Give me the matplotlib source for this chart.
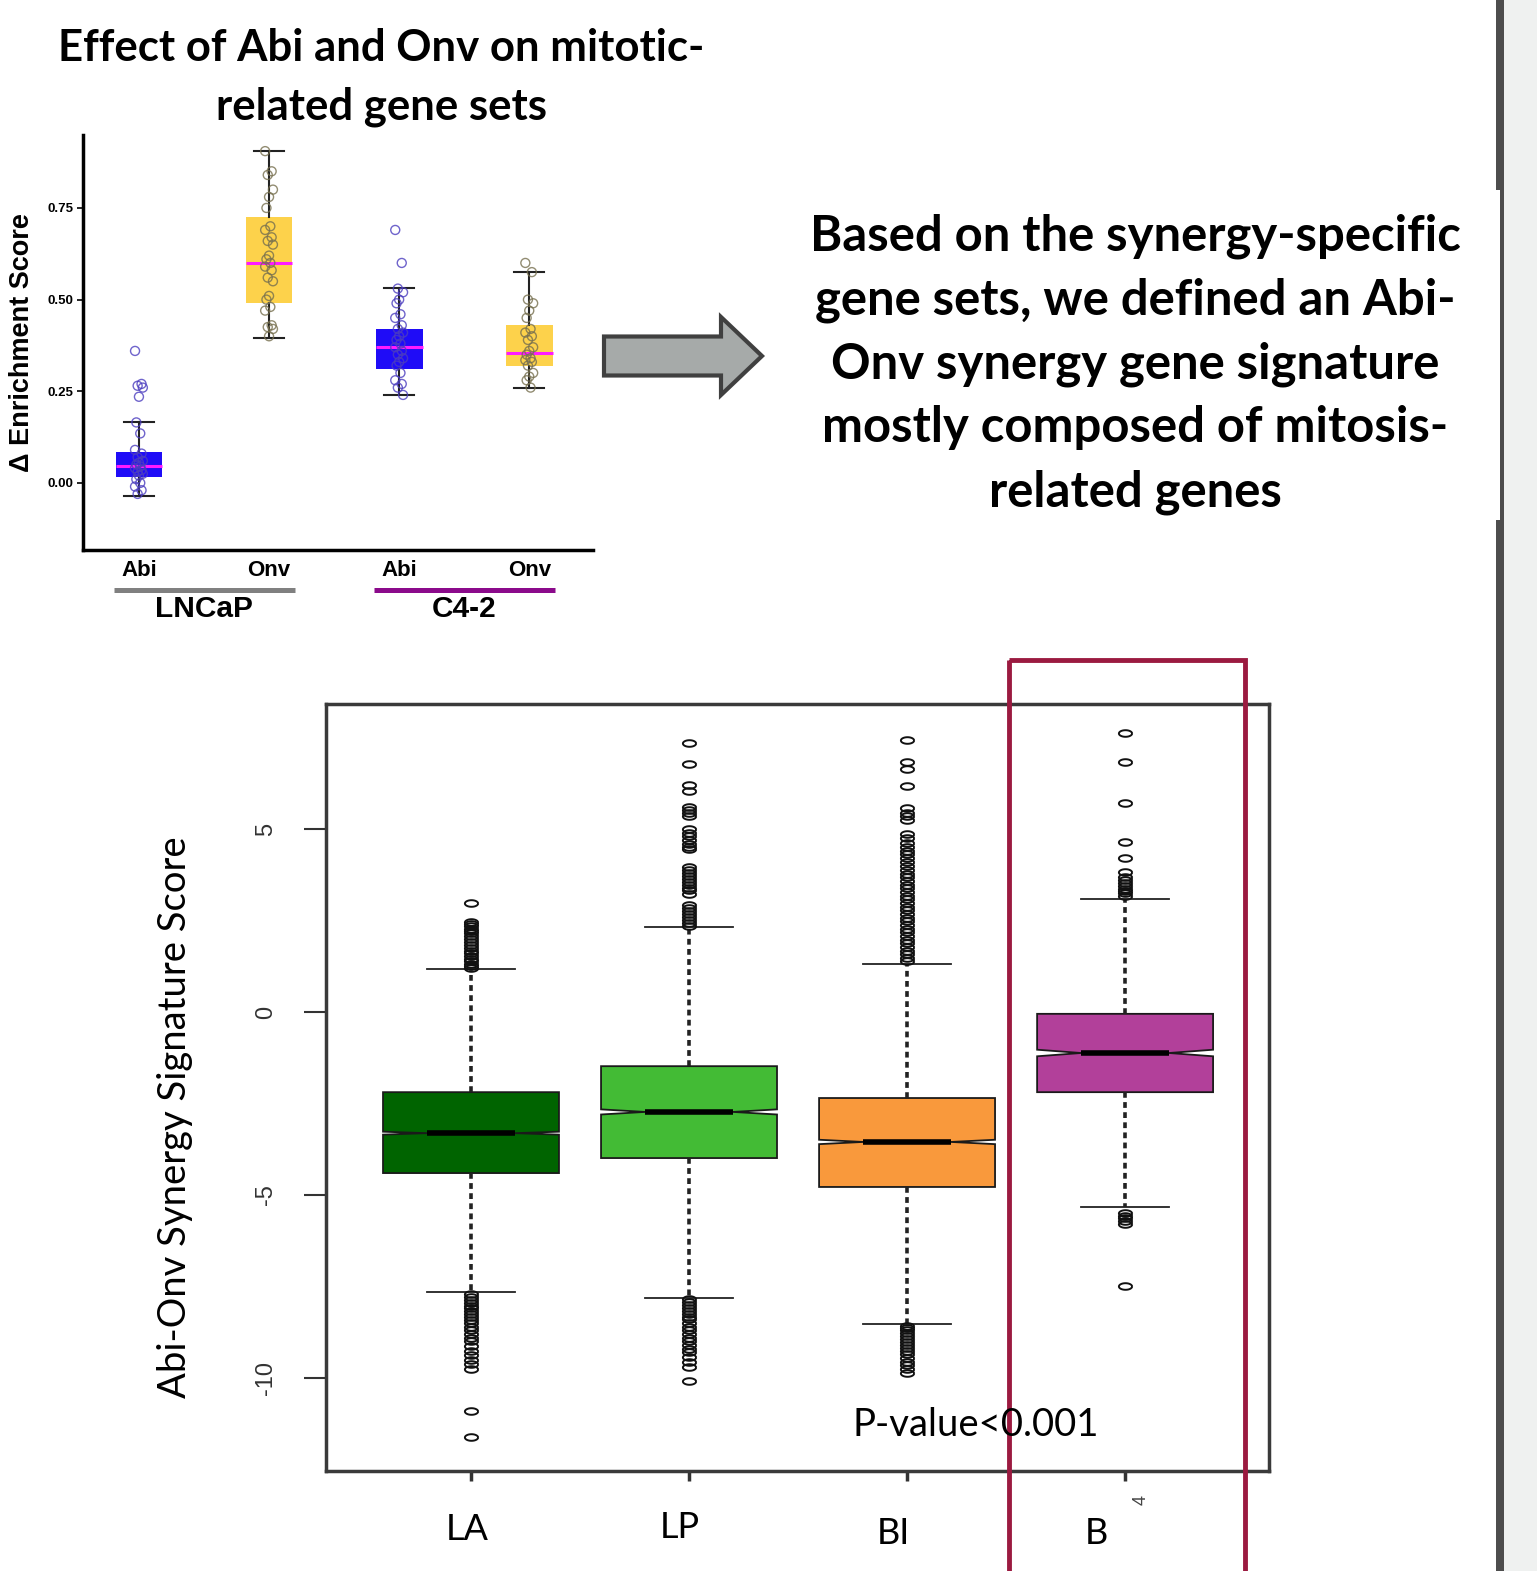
import numpy as np
import matplotlib
matplotlib.use("Agg")
import matplotlib.pyplot as plt
import matplotlib.transforms as mtransforms
from matplotlib.patches import Rectangle, FancyArrow

W, H = 1537, 1571

# ---------------- top panel : delta enrichment score ----------------
top_ticklabels = ["Abi", "Onv", "Abi", "Onv"]
top_cells = ["LNCaP", "C4-2"]
top_q1 = [0.015, 0.490, 0.310, 0.320]
top_med = [0.045, 0.600, 0.370, 0.355]
top_q3 = [0.083, 0.725, 0.420, 0.430]
top_whislo = [-0.035, 0.395, 0.240, 0.258]
top_whishi = [0.165, 0.905, 0.532, 0.575]
top_points = [
    [0.36, 0.27, 0.265, 0.26, 0.235, 0.165, 0.135, 0.09, 0.08, 0.07, 0.06, 0.055,
     0.05, 0.045, 0.04, 0.035, 0.03, 0.025, 0.02, 0.01, 0.0, -0.01, -0.02, -0.03],
    [0.905, 0.85, 0.84, 0.80, 0.78, 0.75, 0.70, 0.69, 0.67, 0.66, 0.65, 0.62, 0.61,
     0.60, 0.59, 0.58, 0.56, 0.55, 0.51, 0.50, 0.48, 0.47, 0.43, 0.425, 0.42, 0.40],
    [0.69, 0.60, 0.53, 0.52, 0.50, 0.49, 0.46, 0.45, 0.43, 0.42, 0.41, 0.40, 0.39,
     0.38, 0.37, 0.36, 0.35, 0.34, 0.33, 0.32, 0.30, 0.28, 0.27, 0.26, 0.24],
    [0.60, 0.575, 0.50, 0.49, 0.47, 0.45, 0.42, 0.41, 0.40, 0.39, 0.37, 0.36, 0.35,
     0.34, 0.335, 0.33, 0.32, 0.30, 0.29, 0.28, 0.26],
]
top_fill = ["#1f0cf7", "#fdd24b", "#1f0cf7", "#fdd24b"]
top_pt_color = ["#4b3dbf", "#77704f", "#4b3dbf", "#77704f"]

# ---------------- bottom panel : Abi-Onv synergy signature ----------------
sig_labels = ["LA", "LP", "BI", "B"]
sig_q1 = [-4.40, -3.99, -4.78, -2.19]
sig_med = [-3.31, -2.73, -3.55, -1.12]
sig_q3 = [-2.19, -1.48, -2.35, -0.05]
sig_whislo = [-7.65, -7.81, -8.52, -5.33]
sig_whishi = [1.17, 2.32, 1.30, 3.09]
sig_notch = [0.04, 0.07, 0.06, 0.09]
sig_out_hi = [
    [2.98, 2.46, 2.40, 2.34, 2.28, 2.22, 2.15, 2.08, 2.00, 1.92, 1.84, 1.76, 1.68,
     1.60, 1.52, 1.45, 1.38, 1.32, 1.26, 1.20],
    [7.35, 6.78, 6.20, 6.04, 5.60, 5.52, 5.44, 5.36, 5.00, 4.90, 4.80, 4.70, 4.60,
     4.52, 4.45, 3.96, 3.88, 3.80, 3.72, 3.64, 3.56, 3.48, 3.40, 3.32, 3.22, 2.92,
     2.84, 2.76, 2.68, 2.60, 2.52, 2.44, 2.36],
    [7.43, 6.83, 6.64, 6.17, 5.57, 5.45, 5.35, 5.25, 4.86, 4.75, 4.62, 4.50, 4.40,
     4.32, 4.20, 4.10, 3.98, 3.88, 3.77, 3.68, 3.58, 3.48, 3.38, 3.28, 3.18, 3.08,
     2.98, 2.88, 2.78, 2.68, 2.58, 2.48, 2.38, 2.28, 2.18, 2.08, 1.98, 1.88, 1.78,
     1.68, 1.58, 1.48, 1.38],
    [7.62, 6.83, 5.71, 4.64, 4.21, 3.83, 3.70, 3.61, 3.52, 3.44, 3.37, 3.30, 3.24, 3.18],
]
sig_out_lo = [
    [-7.70, -7.78, -7.86, -7.94, -8.02, -8.10, -8.18, -8.26, -8.34, -8.42, -8.50,
     -8.60, -8.70, -8.80, -8.90, -9.00, -9.12, -9.25, -9.38, -9.50, -9.62, -9.75,
     -10.90, -11.60],
    [-7.85, -7.92, -8.00, -8.08, -8.16, -8.24, -8.32, -8.40, -8.50, -8.60, -8.70,
     -8.80, -8.90, -9.00, -9.10, -9.20, -9.30, -9.42, -9.55, -9.70, -10.08],
    [-8.58, -8.64, -8.70, -8.78, -8.86, -8.94, -9.02, -9.10, -9.18, -9.26, -9.35,
     -9.45, -9.55, -9.65, -9.75, -9.85],
    [-5.49, -5.56, -5.63, -5.70, -5.79, -7.49],
]
sig_fill = ["#006400", "#43bb35", "#f9993c", "#b2409a"]

# text blocks
title_lines = ["Effect of Abi and Onv on mitotic-", "related gene sets"]
note_lines = ["Based on the synergy-specific", "gene sets, we defined an Abi-",
              "Onv synergy gene signature", "mostly composed of mitosis-",
              "related genes"]
pval_text = "P-value<0.001"

plt.rcParams['font.family'] = ['Liberation Sans', 'DejaVu Sans']

fig = plt.figure(figsize=(W / 100, H / 100), dpi=100)


def box_rect(l, t, r, b):
    return [l / W, 1 - b / H, (r - l) / W, (b - t) / H]


# ---------- top boxplot ----------
ax1 = fig.add_axes(box_rect(83, 135, 593, 550))
stats1 = [dict(med=top_med[i], q1=top_q1[i], q3=top_q3[i],
               whislo=top_whislo[i], whishi=top_whishi[i], fliers=[])
          for i in range(4)]
bp1 = ax1.bxp(stats1, positions=range(4), widths=0.36, capwidths=0.23,
              patch_artist=True, showfliers=False,
              boxprops=dict(linewidth=0),
              medianprops=dict(color="#ff1aff", linewidth=2.2),
              whiskerprops=dict(color="#222222", linewidth=1.5),
              capprops=dict(color="#222222", linewidth=1.5))
for patch, c in zip(bp1['boxes'], top_fill):
    patch.set_facecolor(c)
    patch.set_edgecolor(c)

jit = [-0.03, 0.02, -0.01, 0.03, 0.0, -0.02, 0.01]
for i, pts in enumerate(top_points):
    xs = [i + jit[k % len(jit)] for k in range(len(pts))]
    ax1.scatter(xs, pts, s=42, facecolors="none", edgecolors=top_pt_color[i],
                linewidths=1.0, alpha=0.8, zorder=4)

ax1.set_xlim(-0.43, 3.49)
ax1.set_ylim(-0.183, 0.949)
ax1.set_yticks([0, 0.25, 0.5, 0.75])
ax1.set_yticklabels(["0.00", "0.25", "0.50", "0.75"], fontsize=9.5, fontweight="bold")
ax1.set_xticks(range(4))
ax1.set_xticklabels(top_ticklabels, fontsize=16, fontweight="bold")
ax1.tick_params(axis="x", length=0, pad=7)
ax1.tick_params(axis="y", length=4, width=1.2, pad=3)
for s in ["top", "right"]:
    ax1.spines[s].set_visible(False)
for s in ["left", "bottom"]:
    ax1.spines[s].set_linewidth(2.5)
ax1.set_ylabel("Δ Enrichment Score", fontsize=19.5, fontweight="bold", va="center")
ax1.yaxis.set_label_coords((22 - 83) / 510, 0.5)

trans = mtransforms.blended_transform_factory(ax1.transData, ax1.transAxes)
yb = (550 - 590) / 415
ax1.plot([-0.19, 1.20], [yb, yb], transform=trans, clip_on=False,
         color="#808080", lw=3.6, solid_capstyle="butt")
ax1.plot([1.81, 3.20], [yb, yb], transform=trans, clip_on=False,
         color="#8b0a8b", lw=3.6, solid_capstyle="butt")
yg = (550 - 609) / 415
ax1.text(0.5, yg, top_cells[0], transform=trans, ha="center", va="center",
         fontsize=21.5, fontweight="bold")
ax1.text(2.5, yg, top_cells[1], transform=trans, ha="center", va="center",
         fontsize=21.5, fontweight="bold")

# ---------- bottom notched boxplot ----------
ax2 = fig.add_axes(box_rect(326, 704, 1269, 1471))
t = np.linspace(0, 2 * np.pi, 40)
ellipse = np.column_stack([np.cos(t), 0.5 * np.sin(t)])
stats2 = [dict(med=sig_med[i], q1=sig_q1[i], q3=sig_q3[i],
               whislo=sig_whislo[i], whishi=sig_whishi[i],
               cilo=sig_med[i] - sig_notch[i], cihi=sig_med[i] + sig_notch[i],
               fliers=sig_out_hi[i] + sig_out_lo[i])
          for i in range(4)]
bp2 = ax2.bxp(stats2, positions=[1, 2, 3, 4], widths=0.807, patch_artist=True,
              shownotches=True, showfliers=True,
              boxprops=dict(edgecolor="#1a1a1a", linewidth=1.3),
              medianprops=dict(color="black", linewidth=4, solid_capstyle="butt"),
              whiskerprops=dict(color="#222222", linewidth=2.6, linestyle=(0, (1.6, 1.2))),
              capprops=dict(color="#222222", linewidth=1.3),
              flierprops=dict(marker=ellipse, markersize=9.5, markerfacecolor="none",
                              markeredgecolor="#111111", markeredgewidth=1.4,
                              linestyle="none"))
for patch, c in zip(bp2['boxes'], sig_fill):
    patch.set_facecolor(c)

ax2.set_xlim(0.335, 4.66)
ax2.set_ylim(-12.54, 8.415)
ax2.set_yticks([-10, -5, 0, 5])
ax2.set_yticklabels(["-10", "-5", "0", "5"], rotation=90, fontsize=17,
                    color="#333333", va="center")
ax2.tick_params(axis="y", length=16, width=1.5, pad=19, color="#333333")
ax2.set_xticks([1, 2, 3, 4])
ax2.set_xticklabels([])
ax2.tick_params(axis="x", length=7, width=2.5, color="#333333")
for s in ax2.spines.values():
    s.set_linewidth(2.5)
    s.set_color("#3a3a3a")

# ---------- overlay: text, arrow, frame ----------
ov = fig.add_axes([0, 0, 1, 1], zorder=10)
ov.set_xlim(0, W)
ov.set_ylim(H, 0)
ov.axis("off")
ov.patch.set_alpha(0)

for k, line in enumerate(title_lines):
    ov.text(381, 61 + 58 * k, line, ha="center", va="baseline",
            fontsize=31.5, fontweight="bold", family=["Lato", "DejaVu Sans"])
for k, line in enumerate(note_lines):
    ov.text(1135, 250 + 64 * k, line, ha="center", va="baseline",
            fontsize=35.3, fontweight="bold", family=["Lato", "DejaVu Sans"])

ov.add_patch(FancyArrow(604, 356, 158, 0, width=39, head_width=78, head_length=41,
                        length_includes_head=True, fc="#a6aaa9", ec="#404040", lw=3))

ov.text(175, 1117, "Abi-Onv Synergy Signature Score", rotation=90, ha="center",
        va="center", fontsize=27.5, family=["Lato", "DejaVu Sans"])
xlab_pos = [(467, 1530), (680, 1527), (893, 1533), (1096, 1533)]
for lab, (x, y) in zip(sig_labels, xlab_pos):
    ov.text(x, y, lab, ha="center", va="center", fontsize=26,
            family=["Lato", "DejaVu Sans"])
ov.text(976, 1425, pval_text, ha="center", va="center", fontsize=27.5,
        family=["Lato", "DejaVu Sans"])
ov.text(1141, 1500, "4", rotation=90, ha="center", va="center", fontsize=13,
        color="#444444")

ov.add_patch(Rectangle((1009, 660), 236, 1000, fill=False, ec="#9b1a40", lw=3.5))

ov.add_patch(Rectangle((1496, 0), 8, H, fc="#4d4d4d", ec="none"))
ov.add_patch(Rectangle((1504, 0), 33, H, fc="#eff1f0", ec="none"))
ov.add_patch(Rectangle((1496, 190), 4, 330, fc="white", ec="none"))

fig.savefig("out.png", dpi=100)
